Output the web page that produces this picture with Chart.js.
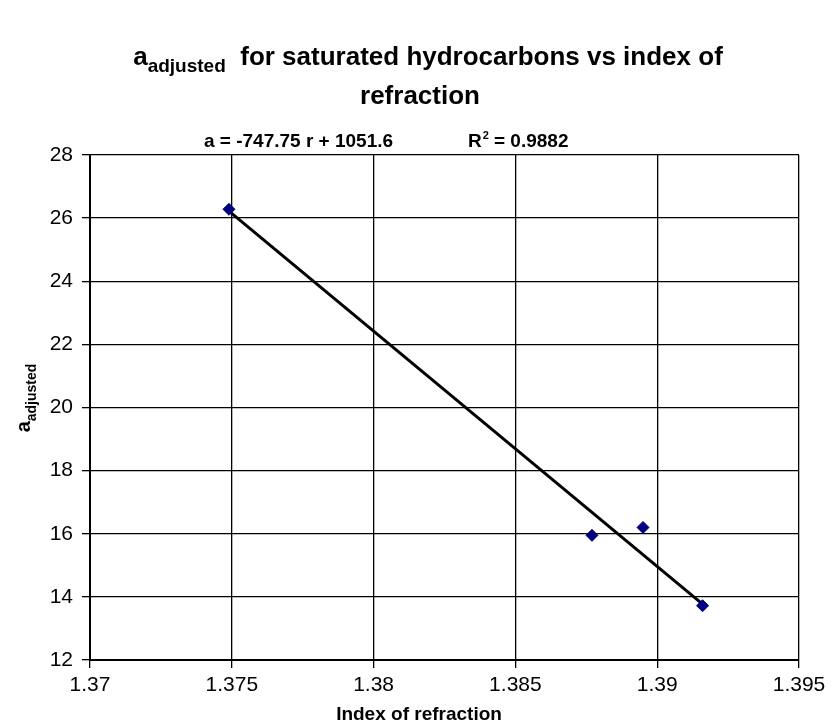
<!DOCTYPE html>
<html>
<head>
<meta charset="utf-8">
<script src="https://cdn.jsdelivr.net/npm/chart.js@4"></script>
<style>
  body { margin: 0; background: #fff; }
  canvas { display: block; }
</style>
</head>
<body>
<canvas id="chart" width="832" height="725"></canvas>
<script>
// Data
const refractionIndex = [1.3749, 1.3877, 1.3895, 1.3916];
const aAdjusted = [26.28, 15.95, 16.2, 13.72];

// Trendline end points (a = -747.75 r + 1051.6)
const trendX = [1.3749, 1.3916];
const trendY = [26.22, 13.77];

const xTicks = [1.37, 1.375, 1.38, 1.385, 1.39, 1.395];
const yTicks = [12, 14, 16, 18, 20, 22, 24, 26, 28];

const titleMain = 'for saturated hydrocarbons vs index of';
const titleLine2 = 'refraction';
const equationText = 'a = -747.75 r + 1051.6';
const r2Text = ' = 0.9882';
const xTitle = 'Index of refraction';

// Text with a subscript part, drawn centred on x
function drawSubText(ctx, x, y, base, sub, rest, size) {
    ctx.font = 'bold ' + size + 'px "Liberation Sans", Arial';
    const wBase = ctx.measureText(base).width;
    const wRest = ctx.measureText(rest).width;
    ctx.font = 'bold ' + Math.round(size * 0.72) + 'px "Liberation Sans", Arial';
    const wSub = ctx.measureText(sub).width;
    let left = x - (wBase + wSub + wRest) / 2;
    ctx.textAlign = 'left';
    ctx.textBaseline = 'alphabetic';
    ctx.font = 'bold ' + size + 'px "Liberation Sans", Arial';
    ctx.fillText(base, left, y);
    ctx.font = 'bold ' + Math.round(size * 0.72) + 'px "Liberation Sans", Arial';
    ctx.fillText(sub, left + wBase, y + size * 0.28);
    ctx.font = 'bold ' + size + 'px "Liberation Sans", Arial';
    ctx.fillText(rest, left + wBase + wSub, y);
}

const textPlugin = {
    id: 'texts',
    afterDraw(chart) {
        const ctx = chart.ctx;
        ctx.save();
        ctx.fillStyle = '#000';

        // Title
        drawSubText(ctx, 428, 65, 'a', 'adjusted', '  ' + titleMain, 26);
        ctx.font = 'bold 26px "Liberation Sans", Arial';
        ctx.textAlign = 'center';
        ctx.fillText(titleLine2, 420, 104);

        // Equation line
        ctx.font = 'bold 19px "Liberation Sans", Arial';
        ctx.textAlign = 'left';
        ctx.fillText(equationText, 204, 147);
        const rx = 468;
        ctx.fillText('R', rx, 147);
        const wR = ctx.measureText('R').width;
        ctx.font = 'bold 11px "Liberation Sans", Arial';
        ctx.fillText('2', rx + wR + 1, 139);
        ctx.font = 'bold 19px "Liberation Sans", Arial';
        ctx.fillText(r2Text, rx + wR + 7, 147);

        // X axis title
        ctx.font = 'bold 19px "Liberation Sans", Arial';
        ctx.textAlign = 'center';
        ctx.fillText(xTitle, 419, 720);

        // Y axis title (rotated)
        ctx.translate(30, 398);
        ctx.rotate(-Math.PI / 2);
        drawSubText(ctx, 0, 0, 'a', 'adjusted', '', 20);
        ctx.restore();
    }
};

const ctx = document.getElementById('chart').getContext('2d');
new Chart(ctx, {
    type: 'scatter',
    data: {
        datasets: [
            {
                label: 'a adjusted',
                data: refractionIndex.map((r, i) => ({ x: r, y: aAdjusted[i] })),
                pointStyle: 'rectRot',
                pointRadius: 6,
                backgroundColor: '#000080',
                borderColor: '#000080',
                borderWidth: 1,
                order: 1
            },
            {
                label: 'trend',
                type: 'line',
                data: trendX.map((r, i) => ({ x: r, y: trendY[i] })),
                borderColor: '#000',
                borderWidth: 3,
                pointRadius: 0,
                fill: false,
                order: 2
            }
        ]
    },
    options: {
        responsive: false,
        animation: false,
        layout: { padding: { top: 155, right: 33, left: 0, bottom: 0 } },
        plugins: {
            legend: { display: false },
            tooltip: { enabled: false },
            title: { display: false }
        },
        scales: {
            x: {
                type: 'linear',
                min: 1.37,
                max: 1.395,
                afterFit(scale) { scale.height = 65; },
                afterBuildTicks(scale) { scale.ticks = xTicks.map(v => ({ value: v })); },
                ticks: {
                    color: '#000',
                    font: { family: '"Liberation Sans", Arial', size: 21 },
                    padding: 5,
                    maxRotation: 0,
                    callback: v => String(v)
                },
                grid: { color: '#000', lineWidth: 1.3, tickLength: 8, tickColor: '#000' },
                border: { color: '#000', width: 2 }
            },
            y: {
                type: 'linear',
                min: 12,
                max: 28,
                afterFit(scale) { scale.width = 90; },
                afterBuildTicks(scale) { scale.ticks = yTicks.map(v => ({ value: v })); },
                ticks: {
                    color: '#000',
                    font: { family: '"Liberation Sans", Arial', size: 21 },
                    padding: 9
                },
                grid: { color: '#000', lineWidth: 1.3, tickLength: 8, tickColor: '#000' },
                border: { color: '#000', width: 2 }
            }
        }
    },
    plugins: [textPlugin]
});
</script>
</body>
</html>
